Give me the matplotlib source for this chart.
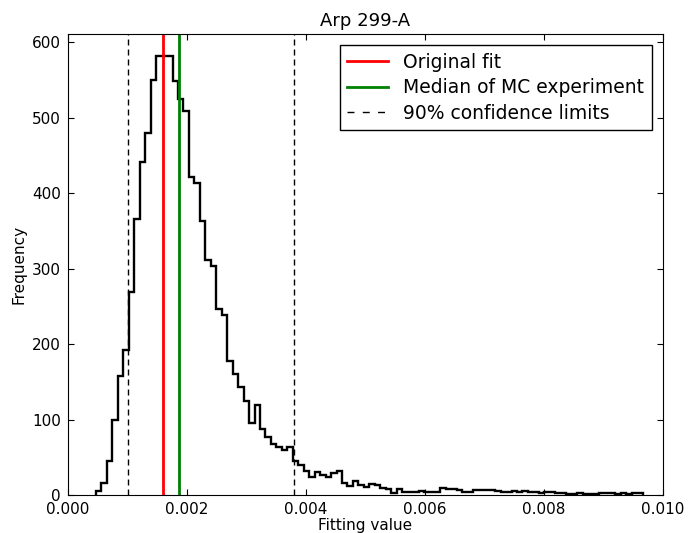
"""Monte Carlo fitting-value histogram for Arp 299-A."""

import matplotlib
import numpy as np

matplotlib.use("Agg")
import matplotlib.pyplot as plt
from matplotlib.lines import Line2D
from matplotlib.ticker import FormatStrFormatter, MultipleLocator

# histogram of MC fitting values (100 equal bins)
BIN_LO = 0.00047
BIN_HI = 0.00966
COUNTS = [
    5, 16, 45, 100, 158, 192, 269, 366, 441, 480,
    550, 582, 582, 582, 549, 525, 509, 422, 413, 363,
    311, 304, 246, 238, 177, 161, 143, 124, 96, 119,
    88, 77, 68, 63, 60, 63, 45, 40, 32, 24,
    31, 27, 24, 29, 32, 16, 12, 19, 13, 10,
    15, 13, 9, 8, 3, 8, 4, 4, 4, 5,
    4, 4, 4, 9, 8, 8, 6, 4, 4, 7,
    6, 7, 6, 5, 4, 4, 5, 4, 5, 4,
    4, 3, 4, 4, 3, 2, 1, 1, 3, 1,
    1, 1, 2, 3, 3, 1, 2, 1, 3, 3,
]

ORIGINAL_FIT = 0.001597
MC_MEDIAN = 0.001866
CONF_LIMITS = [0.001013, 0.003803]

TITLE = "Arp 299-A"
LABELS = ["Original fit", "Median of MC experiment", "90% confidence limits"]


def main():
    fig = plt.figure(figsize=(6.88, 5.33), dpi=100)
    ax = fig.add_axes([0.0988, 0.0713, 0.8649, 0.8649])

    edges = np.linspace(BIN_LO, BIN_HI, len(COUNTS) + 1)
    ax.stairs(COUNTS, edges, color="black", linewidth=1.7, baseline=0)

    l_fit = ax.axvline(ORIGINAL_FIT, color="red", linewidth=2)
    l_med = ax.axvline(MC_MEDIAN, color="green", linewidth=2)
    for lim in CONF_LIMITS:
        ax.axvline(lim, color="black", linewidth=1, linestyle=(0, (4.3, 2.9)))
    # legend shows the dashed limit line with wider dashes, as in old mpl
    l_conf = Line2D([], [], color="black", linewidth=1, linestyle=(0, (5, 6)))

    ax.set_xlim(0, 0.010)
    ax.set_ylim(0, 1.05 * max(COUNTS))
    ax.xaxis.set_major_locator(MultipleLocator(0.002))
    ax.xaxis.set_major_formatter(FormatStrFormatter("%.3f"))
    ax.yaxis.set_major_locator(MultipleLocator(100))
    ax.tick_params(direction="in", top=True, right=True, length=4.5, labelsize=11, pad=5)

    ax.set_title(TITLE, fontsize=13)
    ax.set_xlabel("Fitting value", fontsize=11, labelpad=1)
    ax.set_ylabel("Frequency", fontsize=11)

    leg = ax.legend(
        [l_fit, l_med, l_conf],
        LABELS,
        loc="upper right",
        fontsize=13.5,
        fancybox=False,
        framealpha=1,
        edgecolor="black",
        handlelength=2.2,
        borderaxespad=0.6,
        labelspacing=0.35,
    )
    leg.get_frame().set_linewidth(1)

    fig.savefig("out.png", dpi=100)
    plt.close(fig)


if __name__ == "__main__":
    main()
